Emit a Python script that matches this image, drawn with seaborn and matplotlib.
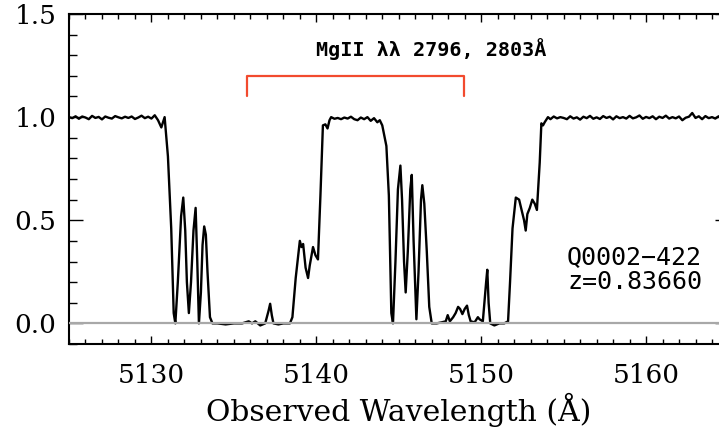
import numpy as np
import pandas as pd
import matplotlib
matplotlib.use("Agg")
import matplotlib.pyplot as plt
import seaborn as sns

# ---- data ----
wave_blue_cont = [5125.0, 5125.2, 5125.4, 5125.6, 5125.8, 5126.0, 5126.2, 5126.4, 5126.6, 5126.8,
                  5127.0, 5127.2, 5127.4, 5127.6, 5127.8, 5128.0, 5128.2, 5128.4, 5128.6, 5128.8,
                  5129.0, 5129.2, 5129.4, 5129.6, 5129.8, 5130.0, 5130.2, 5130.4, 5130.6, 5130.8]
flux_blue_cont = [1.000, 0.995, 1.004, 0.992, 1.003, 0.998, 0.990, 1.006, 0.996, 1.001,
                  0.989, 1.003, 0.997, 0.993, 1.005, 0.999, 0.994, 1.002, 0.996, 1.003,
                  0.991, 0.998, 1.007, 0.995, 1.002, 0.993, 1.009, 0.985, 0.950, 1.000]

wave_abs = [5131.0, 5131.2, 5131.35, 5131.45, 5131.6, 5131.8, 5131.93, 5132.05, 5132.15, 5132.27,
            5132.4, 5132.55, 5132.68, 5132.78, 5132.88, 5133.0, 5133.1, 5133.2, 5133.3, 5133.4,
            5133.55, 5133.7, 5134.0, 5134.5, 5135.0, 5135.5, 5135.9, 5136.1, 5136.3, 5136.6,
            5136.9, 5137.1, 5137.2, 5137.3, 5137.4, 5137.7, 5138.0, 5138.4, 5138.55, 5138.75,
            5139.0, 5139.1, 5139.2, 5139.35, 5139.5, 5139.6, 5139.8, 5139.95, 5140.1, 5140.25,
            5140.4, 5140.55, 5140.68, 5140.8, 5140.9, 5141.1, 5141.3, 5141.5, 5141.7, 5141.9,
            5142.1, 5142.3, 5142.5, 5142.7, 5142.9, 5143.1, 5143.3, 5143.5, 5143.7, 5143.85,
            5144.0, 5144.25, 5144.4, 5144.55, 5144.65, 5144.8, 5144.95, 5145.1, 5145.2, 5145.32,
            5145.42, 5145.55, 5145.7, 5145.79, 5145.9, 5146.07, 5146.2, 5146.35, 5146.43, 5146.55,
            5146.7, 5146.85, 5147.0, 5147.3, 5147.6, 5147.85, 5147.97, 5148.1, 5148.3, 5148.45,
            5148.6, 5148.72, 5148.86, 5149.0, 5149.14, 5149.25, 5149.36, 5149.6, 5149.8, 5149.9,
            5150.1, 5150.3, 5150.37, 5150.45, 5150.55, 5150.8, 5151.1, 5151.4, 5151.63, 5151.75,
            5151.9, 5152.1, 5152.3, 5152.45, 5152.6, 5152.7, 5152.8, 5152.95, 5153.1, 5153.25,
            5153.38, 5153.55, 5153.65, 5153.75, 5153.85, 5154.05]
flux_abs = [0.81, 0.46, 0.05, 0.00, 0.20, 0.52, 0.61, 0.45, 0.20, 0.05,
            0.20, 0.45, 0.56, 0.30, 0.00, 0.15, 0.38, 0.47, 0.43, 0.25,
            0.03, 0.00, 0.00, -0.005, 0.00, 0.00, 0.01, 0.00, 0.01, -0.01,
            0.00, 0.06, 0.095, 0.04, 0.00, -0.005, 0.00, 0.00, 0.03, 0.22,
            0.40, 0.37, 0.385, 0.27, 0.22, 0.28, 0.37, 0.33, 0.31, 0.62,
            0.96, 0.965, 0.945, 0.985, 1.000, 0.992, 0.996, 0.990, 0.998, 0.993,
            1.002, 0.990, 0.985, 0.998, 0.990, 1.000, 0.982, 0.995, 0.975, 0.985,
            0.960, 0.86, 0.62, 0.05, 0.00, 0.30, 0.65, 0.765, 0.60, 0.30,
            0.15, 0.35, 0.65, 0.72, 0.40, 0.02, 0.25, 0.60, 0.67, 0.58,
            0.35, 0.08, 0.00, 0.00, 0.005, 0.01, 0.04, 0.01, 0.03, 0.05,
            0.08, 0.07, 0.045, 0.07, 0.086, 0.04, 0.01, 0.005, 0.03, 0.02,
            0.01, 0.20, 0.26, 0.10, 0.00, -0.01, 0.00, 0.00, 0.01, 0.20,
            0.46, 0.61, 0.60, 0.55, 0.50, 0.45, 0.53, 0.56, 0.60, 0.58,
            0.55, 0.78, 0.97, 0.96, 0.975, 1.000]

wave_red_cont = [5154.2, 5154.4, 5154.6, 5154.8, 5155.0, 5155.2, 5155.4, 5155.6, 5155.8, 5156.0,
                 5156.2, 5156.4, 5156.6, 5156.8, 5157.0, 5157.2, 5157.4, 5157.6, 5157.8, 5158.0,
                 5158.2, 5158.4, 5158.6, 5158.8, 5159.0, 5159.2, 5159.4, 5159.6, 5159.8, 5160.0,
                 5160.2, 5160.4, 5160.6, 5160.8, 5161.0, 5161.2, 5161.4, 5161.6, 5161.8, 5162.0,
                 5162.2, 5162.4, 5162.6, 5162.8, 5163.0, 5163.2, 5163.4, 5163.6, 5163.8, 5164.0,
                 5164.2, 5164.4, 5164.6, 5164.8, 5165.0]
flux_red_cont = [0.990, 1.003, 0.994, 1.000, 0.996, 0.990, 1.004, 0.993, 0.999, 0.988,
                 1.002, 0.995, 1.006, 0.992, 0.999, 0.991, 1.005, 0.996, 1.002, 0.989,
                 1.004, 0.995, 1.000, 0.993, 1.006, 0.994, 0.999, 1.008, 0.992, 1.001,
                 0.995, 1.004, 0.990, 1.002, 0.996, 1.007, 0.993, 1.000, 0.994, 1.003,
                 0.985, 0.997, 1.002, 1.020, 0.996, 1.004, 0.990, 1.005, 0.995, 1.000,
                 0.993, 1.004, 0.997, 1.001, 0.996]

wave_err = [5125.0, 5135.0, 5145.0, 5155.0, 5165.0]
flux_err = [0.0, 0.0, 0.0, 0.0, 0.0]

bracket_left, bracket_right = 5135.78, 5148.96
bracket_low, bracket_high = 1.10, 1.20
ion_label = "MgII λλ 2796, 2803Å"
qso_label = "Q0002−422\nz=0.83660"

wave = wave_blue_cont + wave_abs + wave_red_cont
flux = flux_blue_cont + flux_abs + flux_red_cont
df = pd.DataFrame({"wave": wave, "flux": flux})
df_err = pd.DataFrame({"wave": wave_err, "err": flux_err})

# ---- plotting ----
sns.set_theme(style="ticks")
plt.rcParams["font.family"] = ["DejaVu Serif", "DejaVu Sans"]
plt.rcParams["text.color"] = "black"
plt.rcParams["axes.labelcolor"] = "black"
plt.rcParams["xtick.color"] = "black"
plt.rcParams["ytick.color"] = "black"

fig = plt.figure(figsize=(7.19, 4.29), dpi=100)
ax = fig.add_axes([69/719, 85/429, 659.5/719, 330/429])

sns.lineplot(data=df, x="wave", y="flux", ax=ax, color="black", linewidth=1.7,
             sort=False, estimator=None, zorder=2)
sns.lineplot(data=df_err, x="wave", y="err", ax=ax, color="#a8a8a8", linewidth=1.6,
             sort=False, estimator=None, zorder=3)

ax.set_xlim(5125, 5165)
ax.set_ylim(-0.1, 1.5)
ax.set_xticks([5130, 5140, 5150, 5160])
ax.set_xticks(np.arange(5125, 5166, 1), minor=True)
ax.set_yticks([0.0, 0.5, 1.0, 1.5])
ax.set_yticks(np.arange(-0.1, 1.51, 0.1), minor=True)
ax.set_yticklabels(["0.0", "0.5", "1.0", "1.5"])

ax.tick_params(axis="both", which="both", direction="in", top=True, right=True,
               colors="black", labelcolor="black", width=1.0)
ax.tick_params(axis="x", which="major", length=6, pad=14, labelsize=19)
ax.tick_params(axis="x", which="minor", length=3.5)
ax.tick_params(axis="y", which="major", length=10, pad=9, labelsize=19)
ax.tick_params(axis="y", which="minor", length=5.5)
for s in ax.spines.values():
    s.set_linewidth(1.5)
    s.set_color("black")

ax.set_xlabel("Observed Wavelength (Å)", fontsize=21.5, labelpad=3, color="black")
ax.set_ylabel("")

# bracket for MgII doublet
ax.plot([bracket_left, bracket_left, bracket_right, bracket_right],
        [bracket_low, bracket_high, bracket_high, bracket_low],
        color="#f24a2e", linewidth=1.6)
ax.text(5140.0, 1.33, ion_label, fontsize=14.5, family=["DejaVu Sans Mono"],
        fontweight="bold", ha="left", va="center", color="black")
ax.text(5163.4, 0.262, qso_label, fontsize=18, family=["DejaVu Sans Mono"],
        ha="right", va="center", linespacing=1.05, color="black")

fig.savefig("out.png", dpi=100)
